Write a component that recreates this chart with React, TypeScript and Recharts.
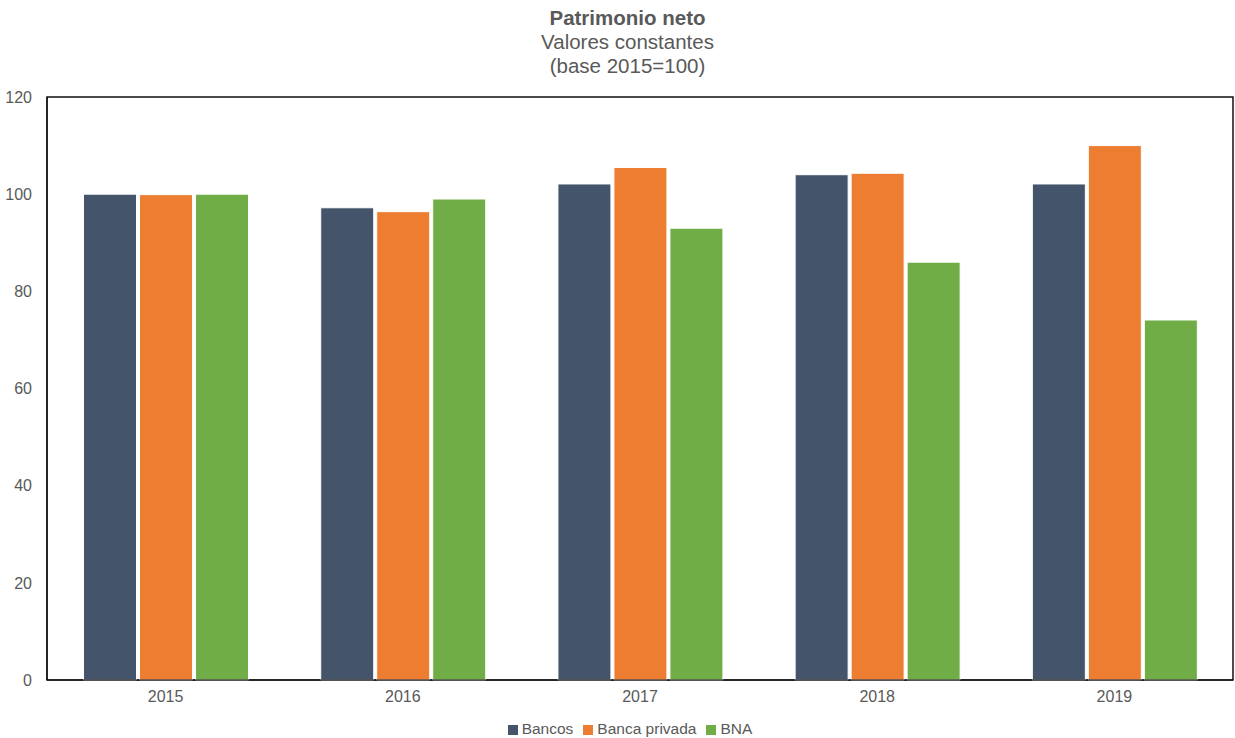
import { Bar, BarChart, Legend, XAxis, YAxis, usePlotArea } from "recharts";

const years = ["2015", "2016", "2017", "2018", "2019"];
const bancos = [100, 97.2, 102.1, 104, 102.1];
const bancaPrivada = [99.9, 96.4, 105.5, 104.3, 110];
const bna = [100, 99, 93, 86, 74.1];
const yTicks = [0, 20, 40, 60, 80, 100, 120];
const seriesOrder = ["Bancos", "Banca privada", "BNA"];

const data = years.map((year, i) => ({
  year,
  bancos: bancos[i],
  bancaPrivada: bancaPrivada[i],
  bna: bna[i],
}));

const font = "'Liberation Sans', Arial, sans-serif";
const grey = "#595959";

// box round the plot area
const Frame = () => {
  const p = usePlotArea();
  if (!p) return null;
  return (
    <rect x={p.x} y={p.y} width={p.width} height={p.height} fill="none" stroke="#000" strokeWidth={1.4} />
  );
};

export default function App() {
  return (
    <div
      style={{
        position: "absolute",
        left: 0,
        top: 0,
        width: 1235,
        height: 738,
        fontFamily: font,
        background: "#fff",
      }}
    >
      <div
        style={{
          position: "absolute",
          top: 6,
          left: 0,
          width: 1255,
          textAlign: "center",
          color: grey,
          fontSize: 20.5,
          lineHeight: "24px",
        }}
      >
        <div style={{ fontWeight: "bold" }}>Patrimonio neto</div>
        <div>Valores constantes</div>
        <div>(base 2015=100)</div>
      </div>
      <BarChart
        width={1235}
        height={738}
        data={data}
        margin={{ top: 97, right: 2, bottom: 10, left: 7 }}
        barCategoryGap="15.4%"
        barGap={3}
      >
        <XAxis
          dataKey="year"
          height={30}
          stroke="#000"
          tickLine={false}
          tick={{ fill: grey, fontSize: 16 }}
          tickMargin={5}
        />
        <YAxis
          domain={[0, 120]}
          ticks={yTicks}
          width={40}
          stroke="#000"
          tickLine={false}
          tick={{ fill: grey, fontSize: 16 }}
          tickMargin={9}
        />
        <Legend
          verticalAlign="bottom"
          iconType="square"
          iconSize={10}
          itemSorter={(item: any) => seriesOrder.indexOf(item.value)}
          wrapperStyle={{ fontSize: 15.5, bottom: 0, left: 0, paddingLeft: 22 }}
          formatter={(v) => <span style={{ color: grey }}>{v}</span>}
        />
        <Bar dataKey="bancos" name="Bancos" fill="#44546A" stroke="#fff" isAnimationActive={false} />
        <Bar dataKey="bancaPrivada" name="Banca privada" fill="#ED7D31" stroke="#fff" isAnimationActive={false} />
        <Bar dataKey="bna" name="BNA" fill="#70AD47" stroke="#fff" isAnimationActive={false} />
        <Frame />
      </BarChart>
    </div>
  );
}
